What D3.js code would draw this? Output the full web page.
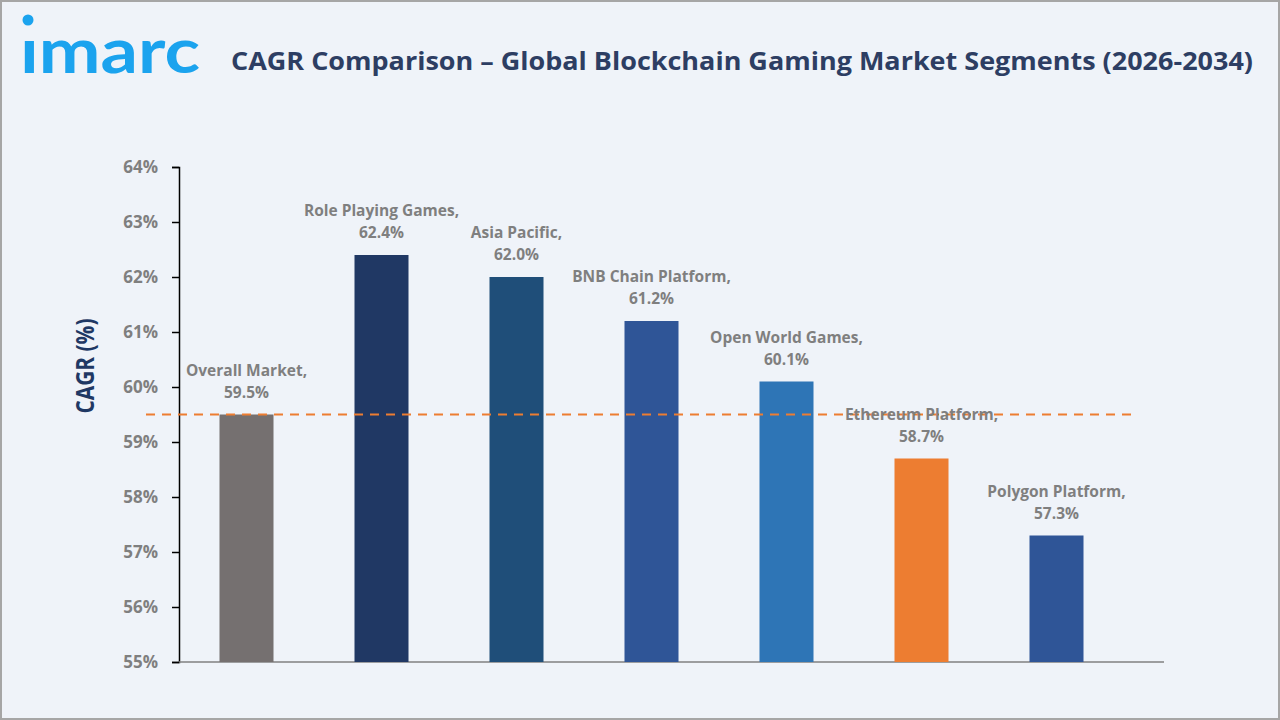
<!DOCTYPE html>
<html>
<head>
<meta charset="utf-8">
<script src="https://cdn.jsdelivr.net/npm/d3@7"></script>
<style>
  body { margin: 0; background: #fff; }
  svg { display: block; }
</style>
</head>
<body>
<svg id="chart" width="1280" height="720"></svg>
<script>
const categories = ['Overall Market', 'Role Playing Games', 'Asia Pacific', 'BNB Chain Platform', 'Open World Games', 'Ethereum Platform', 'Polygon Platform']
const cagrValues = [59.5, 62.4, 62.0, 61.2, 60.1, 58.7, 57.3]
const barColors = ['#757070', '#203864', '#1F4E79', '#2F5597', '#2E75B6', '#ED7D31', '#2F5597']
const yTicks = [55, 56, 57, 58, 59, 60, 61, 62, 63, 64]
const referenceValue = 59.5

const $svg = d3.select('#chart')
const FONT = "'Open Sans', 'Noto Sans', sans-serif"

// background + frame
$svg.append('rect')
  .attr('x', 1).attr('y', 1)
  .attr('width', 1278).attr('height', 718)
  .attr('fill', '#EFF3F9')
  .attr('stroke', '#A6A6A6')
  .attr('stroke-width', 2)

// logo
const $logo = $svg.append('g')
$logo.append('text')
  .attr('x', 20).attr('y', 73)
  .attr('font-family', "'Lato', 'Noto Sans', sans-serif")
  .attr('font-weight', 700)
  .attr('font-size', 63)
  .attr('fill', '#1BA3EE')
  .attr('textLength', 180)
  .attr('lengthAdjust', 'spacingAndGlyphs')
  .text('ımarc')
$logo.append('circle')
  .attr('cx', 28).attr('cy', 20).attr('r', 5.5)
  .attr('fill', '#1BA3EE')

// title
$svg.append('text')
  .attr('x', 742).attr('y', 70)
  .attr('text-anchor', 'middle')
  .attr('font-family', FONT)
  .attr('font-weight', 700)
  .attr('font-size', 25)
  .attr('fill', '#2D3E63')
  .attr('textLength', 1022)
  .attr('lengthAdjust', 'spacingAndGlyphs')
  .text('CAGR Comparison – Global Blockchain Gaming Market Segments (2026-2034)')

const MARGIN = { top: 167, right: 156, bottom: 58, left: 179 }
const width = 1280 - MARGIN.left - MARGIN.right
const height = 720 - MARGIN.top - MARGIN.bottom

const $g = $svg.append('g').attr('transform', `translate(${MARGIN.left}, ${MARGIN.top})`)

const xScale = d3.scaleBand()
  .domain(categories)
  .range([0, 945])
  .paddingInner(0.6)
  .paddingOuter(0.3)

const yScale = d3.scaleLinear()
  .domain([55, 64])
  .range([height, 0])

// y axis
const $yAxis = $g.append('g')
  .call(d3.axisLeft(yScale).tickValues(yTicks).tickSize(7).tickPadding(14).tickFormat(d => d + '%'))
$yAxis.select('.domain').attr('stroke', '#000').attr('stroke-width', 1.5)
$yAxis.selectAll('.tick line').attr('stroke', '#000').attr('stroke-width', 1.5)
$yAxis.selectAll('.tick text')
  .attr('font-family', FONT)
  .attr('font-weight', 700)
  .attr('font-size', 17)
  .attr('fill', '#7F7F7F')

// baseline
$g.append('line')
  .attr('x1', 0).attr('x2', 985)
  .attr('y1', yScale(55)).attr('y2', yScale(55))
  .attr('stroke', '#808080')
  .attr('stroke-width', 1.5)

// bars
$g.selectAll('.bar')
  .data(categories)
  .enter()
  .append('rect')
  .attr('class', 'bar')
  .attr('x', d => xScale(d))
  .attr('width', xScale.bandwidth())
  .attr('y', (d, i) => yScale(cagrValues[i]))
  .attr('height', (d, i) => yScale(55) - yScale(cagrValues[i]))
  .attr('fill', (d, i) => barColors[i])

// reference dashed line
$g.append('line')
  .attr('x1', -33).attr('x2', 956)
  .attr('y1', yScale(referenceValue)).attr('y2', yScale(referenceValue))
  .attr('stroke', '#ED7D31')
  .attr('stroke-width', 2)
  .attr('stroke-dasharray', '9,7')

// labels
const $labels = $g.selectAll('.bar-label')
  .data(categories)
  .enter()
  .append('text')
  .attr('class', 'bar-label')
  .attr('text-anchor', 'middle')
  .attr('font-family', FONT)
  .attr('font-weight', 700)
  .attr('font-size', 15.5)
  .attr('fill', '#7F7F7F')
$labels.append('tspan')
  .attr('x', d => xScale(d) + xScale.bandwidth() / 2)
  .attr('y', (d, i) => yScale(cagrValues[i]) - 39)
  .text(d => d + ',')
$labels.append('tspan')
  .attr('x', d => xScale(d) + xScale.bandwidth() / 2)
  .attr('y', (d, i) => yScale(cagrValues[i]) - 17)
  .text((d, i) => d3.format('.1f')(cagrValues[i]) + '%')

// y axis title
$svg.append('text')
  .attr('transform', 'translate(94, 366) rotate(-90)')
  .attr('text-anchor', 'middle')
  .attr('font-family', FONT)
  .attr('font-weight', 700)
  .attr('font-size', 25)
  .attr('fill', '#1F3864')
  .attr('textLength', 95)
  .attr('lengthAdjust', 'spacingAndGlyphs')
  .text('CAGR (%)')
</script>
</body>
</html>
